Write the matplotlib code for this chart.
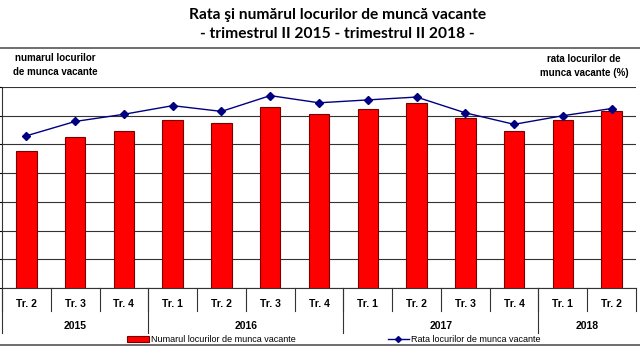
import matplotlib.pyplot as plt
from matplotlib.lines import Line2D
from matplotlib.patches import Patch

# data
quarters = ['Tr. 2', 'Tr. 3', 'Tr. 4',
            'Tr. 1', 'Tr. 2', 'Tr. 3', 'Tr. 4',
            'Tr. 1', 'Tr. 2', 'Tr. 3', 'Tr. 4',
            'Tr. 1', 'Tr. 2']
years = ['2015', '2016', '2017', '2018']
year_len = [3, 4, 4, 2]
vacancies = [47600, 52500, 54800, 58400, 57500, 62900, 60700,
             62400, 64300, 59100, 54800, 58500, 61700]
rate = [1.06, 1.16, 1.21, 1.27, 1.23, 1.34, 1.29,
        1.31, 1.33, 1.22, 1.14, 1.20, 1.25]

plt.rcParams['font.family'] = 'Liberation Sans'
fig = plt.figure(figsize=(6.4, 3.6), dpi=100)
ax = fig.add_axes([2 / 640, 1 - 288 / 360, 634 / 640, 201 / 360])
x = list(range(len(quarters)))

ax.bar(x, vacancies, width=0.42, color='#ff0000', edgecolor='#7a0000',
       linewidth=0.8, zorder=3)
ax.set_ylim(0, 70000)
ax.set_yticks(range(0, 70001, 10000))
ax.grid(axis='y', color='#333333', linewidth=0.8, zorder=0)
ax.set_xlim(-0.5, len(quarters) - 0.5)
ax.set_xticks([])
ax.tick_params(left=False, labelleft=False)
for s in ['top', 'right']:
    ax.spines[s].set_visible(False)
ax.spines['left'].set_color('#333333')
ax.spines['bottom'].set_color('#333333')

ax2 = ax.twinx()
ax2.plot(x, rate, color='#000080', marker='D', markersize=4, linewidth=1, zorder=4)
ax2.set_ylim(0, 1.4)
ax2.set_yticks([])
for s in ax2.spines.values():
    s.set_visible(False)

# category axis with quarters and years
tr = ax.get_xaxis_transform()
for i in range(len(quarters) + 1):
    ax.add_line(Line2D([i - 0.5, i - 0.5], [0, -0.115], transform=tr,
                       color='#333333', lw=0.8, clip_on=False))
for i, q in enumerate(quarters):
    ax.text(i, -0.08, q, transform=tr, ha='center', va='center',
            fontsize=7.5, fontweight='bold')
start = 0
for y, n in zip(years, year_len):
    ax.add_line(Line2D([start - 0.5, start - 0.5], [0, -0.225], transform=tr,
                       color='#333333', lw=0.8, clip_on=False))
    ax.text(start + (n - 1) / 2, -0.19, y, transform=tr, ha='center',
            va='center', fontsize=7.5, fontweight='bold')
    start += n

# titles and frame lines
fig.text(0.527, 1 - 15 / 360, 'Rata şi numărul locurilor de muncă vacante',
         ha='center', va='center', fontsize=11.2, fontweight='bold', family='Lato')
fig.text(0.527, 1 - 34 / 360, '- trimestrul II 2015 - trimestrul II 2018 -',
         ha='center', va='center', fontsize=11.2, fontweight='bold', family='Lato')
fig.add_artist(Line2D([0, 1], [1 - 48 / 360] * 2, color='#555555', lw=1.2))
fig.add_artist(Line2D([0, 1], [1 - 345 / 360] * 2, color='#555555', lw=1.2))

fig.text(55 / 640, 1 - 65 / 360, 'numarul locurilor\nde munca vacante',
         ha='center', va='center', fontsize=7, fontweight='bold', linespacing=1.5)
fig.text(584 / 640, 1 - 66 / 360, 'rata locurilor de\nmunca vacante (%)',
         ha='center', va='center', fontsize=7, fontweight='bold', linespacing=1.5)

handles = [Patch(facecolor='#ff0000', edgecolor='#7a0000', linewidth=0.8),
           Line2D([], [], color='#000080', marker='D', markersize=3, lw=1)]
fig.legend(handles, ['Numarul locurilor de munca vacante',
                     'Rata locurilor de munca vacante'],
           loc='center', bbox_to_anchor=(334 / 640, 1 - 340 / 360), ncol=2,
           frameon=False, fontsize=6.5, handlelength=2.4, handleheight=0.6,
           handletextpad=0.2, columnspacing=10.2, borderpad=0)

fig.savefig('out.png', dpi=100)
